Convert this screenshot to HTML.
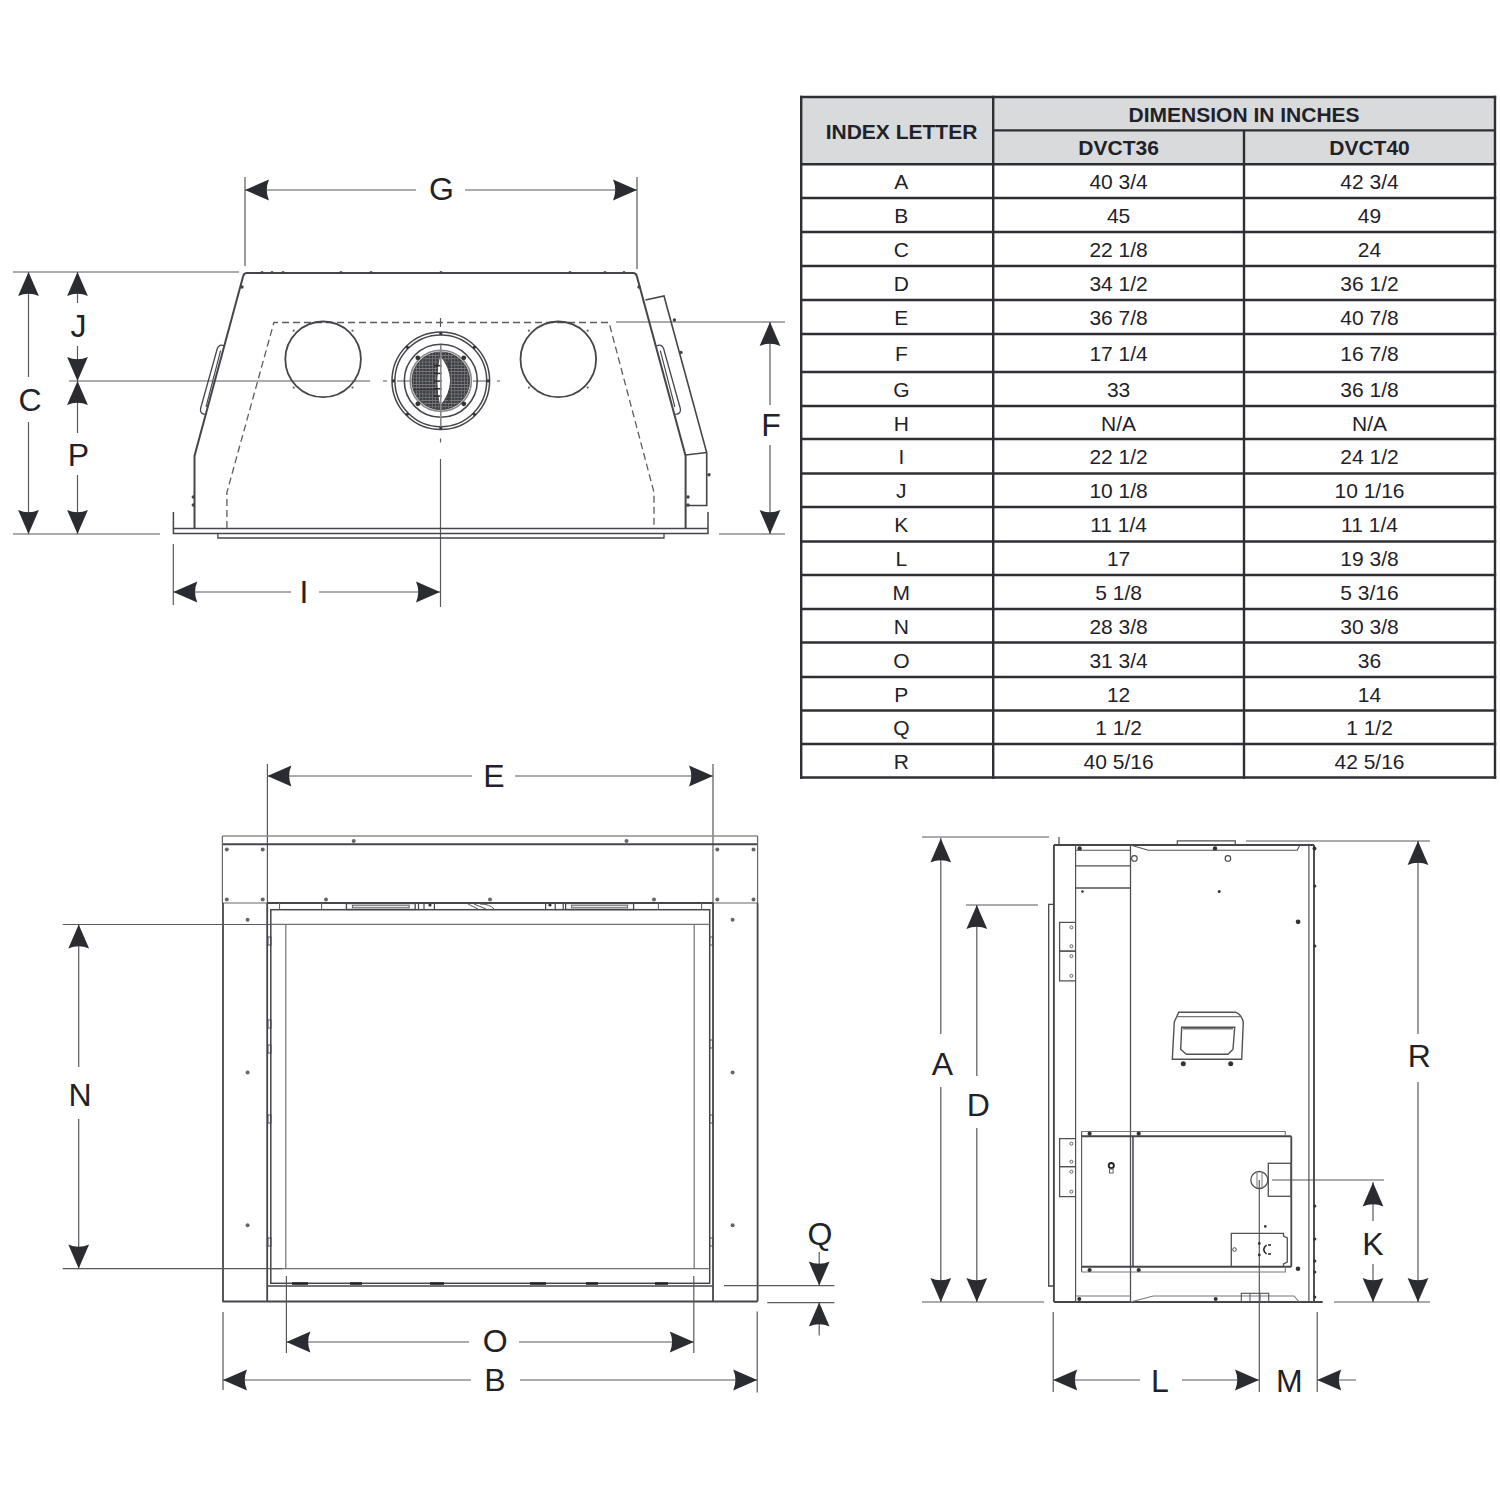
<!DOCTYPE html>
<html><head><meta charset="utf-8"><style>
html,body{margin:0;padding:0;background:#fff;}
svg{display:block;font-family:"Liberation Sans",sans-serif;}
</style></head><body>
<svg width="1500" height="1500" viewBox="0 0 1500 1500">
<rect width="1500" height="1500" fill="#fff"/>
<rect x="801.2" y="97" width="693.8" height="67.19999999999999" fill="#d9dadc"/>
<line x1="800.0" y1="97" x2="1496.2" y2="97" stroke="#2e2f34" stroke-width="2.4" />
<line x1="800.0" y1="164.2" x2="1496.2" y2="164.2" stroke="#2e2f34" stroke-width="2.4" />
<line x1="800.0" y1="198" x2="1496.2" y2="198" stroke="#2e2f34" stroke-width="2.4" />
<line x1="800.0" y1="232" x2="1496.2" y2="232" stroke="#2e2f34" stroke-width="2.4" />
<line x1="800.0" y1="266" x2="1496.2" y2="266" stroke="#2e2f34" stroke-width="2.4" />
<line x1="800.0" y1="300" x2="1496.2" y2="300" stroke="#2e2f34" stroke-width="2.4" />
<line x1="800.0" y1="334" x2="1496.2" y2="334" stroke="#2e2f34" stroke-width="2.4" />
<line x1="800.0" y1="372" x2="1496.2" y2="372" stroke="#2e2f34" stroke-width="2.4" />
<line x1="800.0" y1="406" x2="1496.2" y2="406" stroke="#2e2f34" stroke-width="2.4" />
<line x1="800.0" y1="439" x2="1496.2" y2="439" stroke="#2e2f34" stroke-width="2.4" />
<line x1="800.0" y1="473.5" x2="1496.2" y2="473.5" stroke="#2e2f34" stroke-width="2.4" />
<line x1="800.0" y1="507" x2="1496.2" y2="507" stroke="#2e2f34" stroke-width="2.4" />
<line x1="800.0" y1="541.5" x2="1496.2" y2="541.5" stroke="#2e2f34" stroke-width="2.4" />
<line x1="800.0" y1="575" x2="1496.2" y2="575" stroke="#2e2f34" stroke-width="2.4" />
<line x1="800.0" y1="609" x2="1496.2" y2="609" stroke="#2e2f34" stroke-width="2.4" />
<line x1="800.0" y1="642.5" x2="1496.2" y2="642.5" stroke="#2e2f34" stroke-width="2.4" />
<line x1="800.0" y1="677" x2="1496.2" y2="677" stroke="#2e2f34" stroke-width="2.4" />
<line x1="800.0" y1="710.5" x2="1496.2" y2="710.5" stroke="#2e2f34" stroke-width="2.4" />
<line x1="800.0" y1="744" x2="1496.2" y2="744" stroke="#2e2f34" stroke-width="2.4" />
<line x1="800.0" y1="777.5" x2="1496.2" y2="777.5" stroke="#2e2f34" stroke-width="2.4" />
<line x1="993.2" y1="130.4" x2="1495" y2="130.4" stroke="#2e2f34" stroke-width="2.4" />
<line x1="801.2" y1="95.8" x2="801.2" y2="778.7" stroke="#2e2f34" stroke-width="2.4" />
<line x1="1495" y1="95.8" x2="1495" y2="778.7" stroke="#2e2f34" stroke-width="2.4" />
<line x1="993.2" y1="95.8" x2="993.2" y2="778.7" stroke="#2e2f34" stroke-width="2.4" />
<line x1="1244" y1="130.4" x2="1244" y2="778.7" stroke="#2e2f34" stroke-width="2.4" />
<text x="901.5" y="138.72" font-size="21" font-weight="bold" text-anchor="middle" fill="#1f2228">INDEX LETTER</text>
<text x="1244.1" y="121.82" font-size="21" font-weight="bold" text-anchor="middle" fill="#1f2228">DIMENSION IN INCHES</text>
<text x="1118.6" y="155.42" font-size="21" font-weight="bold" text-anchor="middle" fill="#1f2228">DVCT36</text>
<text x="1369.5" y="155.42" font-size="21" font-weight="bold" text-anchor="middle" fill="#1f2228">DVCT40</text>
<text x="901.3" y="189.22" font-size="21" text-anchor="middle" fill="#1f2228">A</text>
<text x="1118.6" y="189.22" font-size="21" text-anchor="middle" fill="#1f2228">40 3/4</text>
<text x="1369.5" y="189.22" font-size="21" text-anchor="middle" fill="#1f2228">42 3/4</text>
<text x="901.3" y="223.12" font-size="21" text-anchor="middle" fill="#1f2228">B</text>
<text x="1118.6" y="223.12" font-size="21" text-anchor="middle" fill="#1f2228">45</text>
<text x="1369.5" y="223.12" font-size="21" text-anchor="middle" fill="#1f2228">49</text>
<text x="901.3" y="257.12" font-size="21" text-anchor="middle" fill="#1f2228">C</text>
<text x="1118.6" y="257.12" font-size="21" text-anchor="middle" fill="#1f2228">22 1/8</text>
<text x="1369.5" y="257.12" font-size="21" text-anchor="middle" fill="#1f2228">24</text>
<text x="901.3" y="291.12" font-size="21" text-anchor="middle" fill="#1f2228">D</text>
<text x="1118.6" y="291.12" font-size="21" text-anchor="middle" fill="#1f2228">34 1/2</text>
<text x="1369.5" y="291.12" font-size="21" text-anchor="middle" fill="#1f2228">36 1/2</text>
<text x="901.3" y="325.12" font-size="21" text-anchor="middle" fill="#1f2228">E</text>
<text x="1118.6" y="325.12" font-size="21" text-anchor="middle" fill="#1f2228">36 7/8</text>
<text x="1369.5" y="325.12" font-size="21" text-anchor="middle" fill="#1f2228">40 7/8</text>
<text x="901.3" y="361.12" font-size="21" text-anchor="middle" fill="#1f2228">F</text>
<text x="1118.6" y="361.12" font-size="21" text-anchor="middle" fill="#1f2228">17 1/4</text>
<text x="1369.5" y="361.12" font-size="21" text-anchor="middle" fill="#1f2228">16 7/8</text>
<text x="901.3" y="397.12" font-size="21" text-anchor="middle" fill="#1f2228">G</text>
<text x="1118.6" y="397.12" font-size="21" text-anchor="middle" fill="#1f2228">33</text>
<text x="1369.5" y="397.12" font-size="21" text-anchor="middle" fill="#1f2228">36 1/8</text>
<text x="901.3" y="430.62" font-size="21" text-anchor="middle" fill="#1f2228">H</text>
<text x="1118.6" y="430.62" font-size="21" text-anchor="middle" fill="#1f2228">N/A</text>
<text x="1369.5" y="430.62" font-size="21" text-anchor="middle" fill="#1f2228">N/A</text>
<text x="901.3" y="464.37" font-size="21" text-anchor="middle" fill="#1f2228">I</text>
<text x="1118.6" y="464.37" font-size="21" text-anchor="middle" fill="#1f2228">22 1/2</text>
<text x="1369.5" y="464.37" font-size="21" text-anchor="middle" fill="#1f2228">24 1/2</text>
<text x="901.3" y="498.37" font-size="21" text-anchor="middle" fill="#1f2228">J</text>
<text x="1118.6" y="498.37" font-size="21" text-anchor="middle" fill="#1f2228">10 1/8</text>
<text x="1369.5" y="498.37" font-size="21" text-anchor="middle" fill="#1f2228">10 1/16</text>
<text x="901.3" y="532.37" font-size="21" text-anchor="middle" fill="#1f2228">K</text>
<text x="1118.6" y="532.37" font-size="21" text-anchor="middle" fill="#1f2228">11 1/4</text>
<text x="1369.5" y="532.37" font-size="21" text-anchor="middle" fill="#1f2228">11 1/4</text>
<text x="901.3" y="566.37" font-size="21" text-anchor="middle" fill="#1f2228">L</text>
<text x="1118.6" y="566.37" font-size="21" text-anchor="middle" fill="#1f2228">17</text>
<text x="1369.5" y="566.37" font-size="21" text-anchor="middle" fill="#1f2228">19 3/8</text>
<text x="901.3" y="600.12" font-size="21" text-anchor="middle" fill="#1f2228">M</text>
<text x="1118.6" y="600.12" font-size="21" text-anchor="middle" fill="#1f2228">5 1/8</text>
<text x="1369.5" y="600.12" font-size="21" text-anchor="middle" fill="#1f2228">5 3/16</text>
<text x="901.3" y="633.87" font-size="21" text-anchor="middle" fill="#1f2228">N</text>
<text x="1118.6" y="633.87" font-size="21" text-anchor="middle" fill="#1f2228">28 3/8</text>
<text x="1369.5" y="633.87" font-size="21" text-anchor="middle" fill="#1f2228">30 3/8</text>
<text x="901.3" y="667.87" font-size="21" text-anchor="middle" fill="#1f2228">O</text>
<text x="1118.6" y="667.87" font-size="21" text-anchor="middle" fill="#1f2228">31 3/4</text>
<text x="1369.5" y="667.87" font-size="21" text-anchor="middle" fill="#1f2228">36</text>
<text x="901.3" y="701.87" font-size="21" text-anchor="middle" fill="#1f2228">P</text>
<text x="1118.6" y="701.87" font-size="21" text-anchor="middle" fill="#1f2228">12</text>
<text x="1369.5" y="701.87" font-size="21" text-anchor="middle" fill="#1f2228">14</text>
<text x="901.3" y="735.37" font-size="21" text-anchor="middle" fill="#1f2228">Q</text>
<text x="1118.6" y="735.37" font-size="21" text-anchor="middle" fill="#1f2228">1 1/2</text>
<text x="1369.5" y="735.37" font-size="21" text-anchor="middle" fill="#1f2228">1 1/2</text>
<text x="901.3" y="768.87" font-size="21" text-anchor="middle" fill="#1f2228">R</text>
<text x="1118.6" y="768.87" font-size="21" text-anchor="middle" fill="#1f2228">40 5/16</text>
<text x="1369.5" y="768.87" font-size="21" text-anchor="middle" fill="#1f2228">42 5/16</text>
<line x1="245" y1="177" x2="245" y2="266" stroke="#58595d" stroke-width="1.2" />
<line x1="637" y1="177" x2="637" y2="269" stroke="#58595d" stroke-width="1.2" />
<line x1="245" y1="190" x2="416" y2="190" stroke="#58595d" stroke-width="1.2" />
<line x1="465" y1="190" x2="637" y2="190" stroke="#58595d" stroke-width="1.2" />
<path d="M0,0 L24,-10.4 Q19.5,0 24,10.4 Z" fill="#2b2c31" transform="translate(245,190) rotate(0)"/>
<path d="M0,0 L24,-10.4 Q19.5,0 24,10.4 Z" fill="#2b2c31" transform="translate(637,190) rotate(180)"/>
<text x="441.5" y="200.01" font-size="32" text-anchor="middle" fill="#1f2228">G</text>
<line x1="13" y1="272" x2="239" y2="272" stroke="#58595d" stroke-width="1.2" />
<line x1="13" y1="534" x2="160" y2="534" stroke="#58595d" stroke-width="1.2" />
<line x1="28.5" y1="272" x2="28.5" y2="377" stroke="#58595d" stroke-width="1.2" />
<line x1="28.5" y1="422" x2="28.5" y2="534" stroke="#58595d" stroke-width="1.2" />
<path d="M0,0 L24,-10.4 Q19.5,0 24,10.4 Z" fill="#2b2c31" transform="translate(28.5,272) rotate(90)"/>
<path d="M0,0 L24,-10.4 Q19.5,0 24,10.4 Z" fill="#2b2c31" transform="translate(28.5,534) rotate(270)"/>
<text x="30" y="411.01" font-size="32" text-anchor="middle" fill="#1f2228">C</text>
<line x1="77.5" y1="272" x2="77.5" y2="303" stroke="#58595d" stroke-width="1.2" />
<line x1="77.5" y1="346" x2="77.5" y2="381" stroke="#58595d" stroke-width="1.2" />
<path d="M0,0 L24,-10.4 Q19.5,0 24,10.4 Z" fill="#2b2c31" transform="translate(77.5,272) rotate(90)"/>
<path d="M0,0 L24,-10.4 Q19.5,0 24,10.4 Z" fill="#2b2c31" transform="translate(77.5,381) rotate(270)"/>
<text x="78.5" y="337.01" font-size="32" text-anchor="middle" fill="#1f2228">J</text>
<line x1="77.5" y1="381" x2="77.5" y2="433" stroke="#58595d" stroke-width="1.2" />
<line x1="77.5" y1="475" x2="77.5" y2="534" stroke="#58595d" stroke-width="1.2" />
<path d="M0,0 L24,-10.4 Q19.5,0 24,10.4 Z" fill="#2b2c31" transform="translate(77.5,381) rotate(90)"/>
<path d="M0,0 L24,-10.4 Q19.5,0 24,10.4 Z" fill="#2b2c31" transform="translate(77.5,534) rotate(270)"/>
<text x="78.5" y="466.01" font-size="32" text-anchor="middle" fill="#1f2228">P</text>
<line x1="69" y1="381" x2="370" y2="381" stroke="#58595d" stroke-width="1.2" />
<line x1="383" y1="381" x2="500" y2="381" stroke="#58595d" stroke-width="1.1" stroke-dasharray="4 10 14 10"/>
<line x1="173.3" y1="544" x2="173.3" y2="605" stroke="#58595d" stroke-width="1.2" />
<line x1="173.3" y1="592" x2="291" y2="592" stroke="#58595d" stroke-width="1.2" />
<line x1="319" y1="592" x2="440" y2="592" stroke="#58595d" stroke-width="1.2" />
<path d="M0,0 L24,-10.4 Q19.5,0 24,10.4 Z" fill="#2b2c31" transform="translate(173.3,592) rotate(0)"/>
<path d="M0,0 L24,-10.4 Q19.5,0 24,10.4 Z" fill="#2b2c31" transform="translate(440,592) rotate(180)"/>
<text x="304" y="603.01" font-size="32" text-anchor="middle" fill="#1f2228">I</text>
<line x1="440.5" y1="459" x2="440.5" y2="607" stroke="#58595d" stroke-width="1.2" />
<line x1="440.5" y1="438.5" x2="440.5" y2="442.5" stroke="#58595d" stroke-width="1.2" />
<line x1="440.5" y1="318" x2="440.5" y2="327" stroke="#58595d" stroke-width="1.2" />
<line x1="616" y1="322" x2="785" y2="322" stroke="#58595d" stroke-width="1.2" />
<line x1="719" y1="534" x2="785" y2="534" stroke="#58595d" stroke-width="1.2" />
<line x1="770" y1="322" x2="770" y2="405" stroke="#58595d" stroke-width="1.2" />
<line x1="770" y1="445" x2="770" y2="534" stroke="#58595d" stroke-width="1.2" />
<path d="M0,0 L24,-10.4 Q19.5,0 24,10.4 Z" fill="#2b2c31" transform="translate(770,322) rotate(90)"/>
<path d="M0,0 L24,-10.4 Q19.5,0 24,10.4 Z" fill="#2b2c31" transform="translate(770,534) rotate(270)"/>
<text x="771" y="436.01" font-size="32" text-anchor="middle" fill="#1f2228">F</text>
<path d="M194.5,528 L194.5,456 L243.2,276 Q244,273 247,273 L633,273 Q636,273 636.8,276 L685.6,456 L685.6,528" stroke="#45464b" stroke-width="2" fill="none" />
<circle cx="193.3" cy="497" r="1.7" fill="#444"/>
<circle cx="193.3" cy="505" r="1.7" fill="#444"/>
<circle cx="242" cy="287" r="1.7" fill="#444"/>
<circle cx="639" cy="287" r="1.7" fill="#444"/>
<circle cx="688" cy="497" r="1.7" fill="#444"/>
<circle cx="688" cy="505" r="1.7" fill="#444"/>
<circle cx="674.4" cy="320" r="1.7" fill="#444"/>
<circle cx="681" cy="352.4" r="1.7" fill="#444"/>
<circle cx="709" cy="474.7" r="1.7" fill="#444"/>
<path d="M645.5,300 L664,296 L706.7,452.5 L706.7,505.5 L685.6,505.5" stroke="#45464b" stroke-width="1.6" fill="none" />
<line x1="685.6" y1="455" x2="706.7" y2="452.5" stroke="#45464b" stroke-width="1.3" />
<path d="M224.3,346 Q219.5,343.5 217.3,348.5 L200.6,408.5 Q199.5,414 205.7,414.3" stroke="#45464b" stroke-width="1.3" fill="none" />
<path d="M220.6,350.5 L206,407" stroke="#45464b" stroke-width="1.1" fill="none" />
<path d="M656.6,346 Q661.4,343.5 663.6,348.5 L680.3,408.5 Q681.4,414 675.2,414.3" stroke="#45464b" stroke-width="1.3" fill="none" />
<path d="M660.3,350.5 L674.9,407" stroke="#45464b" stroke-width="1.1" fill="none" />
<path d="M173.4,512 L173.4,533.5 L708,533.5 L708,512" stroke="#45464b" stroke-width="1.5" fill="none" />
<line x1="173.4" y1="528.5" x2="708" y2="528.5" stroke="#45464b" stroke-width="1.6" />
<path d="M217.9,533.5 L217.9,538 L664,538 L664,533.5" stroke="#45464b" stroke-width="1.3" fill="none" />
<path d="M226.9,528 L226.9,492.4 L273.9,322.5 L609,322.5 L654,492.4 L654,528" stroke="#5c5d61" stroke-width="1.3" fill="none" stroke-dasharray="7 4"/>
<circle cx="323.1" cy="359.3" r="37.8" stroke="#45464b" stroke-width="1.8" fill="none" />
<circle cx="558.3" cy="359.3" r="37.8" stroke="#45464b" stroke-width="1.8" fill="none" />
<circle cx="293.70000000000005" cy="330.7" r="1.1" fill="#666"/>
<circle cx="293.70000000000005" cy="387.6" r="1.1" fill="#666"/>
<circle cx="352.5" cy="330.7" r="1.1" fill="#666"/>
<circle cx="352.5" cy="387.6" r="1.1" fill="#666"/>
<circle cx="528.9" cy="330.7" r="1.1" fill="#666"/>
<circle cx="528.9" cy="387.6" r="1.1" fill="#666"/>
<circle cx="587.6999999999999" cy="330.7" r="1.1" fill="#666"/>
<circle cx="587.6999999999999" cy="387.6" r="1.1" fill="#666"/>
<defs><pattern id="grill" width="3.2" height="3.2" patternUnits="userSpaceOnUse"><rect width="3.2" height="3.2" fill="#3c3d42"/><rect x="0" y="0" width="3.2" height="0.7" fill="#8a8a8e"/><rect x="0" y="0" width="0.7" height="3.2" fill="#7a7a7e"/></pattern></defs>
<circle cx="440.8" cy="380.8" r="48.8" stroke="#45464b" stroke-width="1.5" fill="none" />
<circle cx="440.8" cy="380.8" r="45.9" stroke="#45464b" stroke-width="1.5" fill="none" />
<circle cx="440.8" cy="380.8" r="36.5" stroke="#45464b" stroke-width="1.6" fill="none" />
<circle cx="440.8" cy="380.8" r="30.6" stroke="#8a8a8e" stroke-width="1.6" fill="none" />
<circle cx="440.8" cy="380.8" r="28.9" stroke="#333" stroke-width="0.8" fill="url(#grill)" />
<line x1="412.8" y1="389.8" x2="435.8" y2="389.8" stroke="#333" stroke-width="1"/>
<line x1="448.8" y1="360.8" x2="448.8" y2="402.8" stroke="#333" stroke-width="1"/>
<path d="M439.8,354.8 Q433.8,380.8 439.8,406.8 Q461.3,380.8 439.8,354.8 Z" fill="#fff" stroke="#444" stroke-width="1"/>
<line x1="433.8" y1="365.7" x2="441.8" y2="365.7" stroke="#2a2a2a" stroke-width="1.5"/>
<line x1="433.8" y1="373.40000000000003" x2="441.8" y2="373.40000000000003" stroke="#2a2a2a" stroke-width="1.5"/>
<line x1="433.8" y1="381.1" x2="441.8" y2="381.1" stroke="#2a2a2a" stroke-width="1.5"/>
<line x1="433.8" y1="388.8" x2="441.8" y2="388.8" stroke="#2a2a2a" stroke-width="1.5"/>
<line x1="433.8" y1="396.1" x2="441.8" y2="396.1" stroke="#2a2a2a" stroke-width="1.5"/>
<line x1="440.8" y1="344.8" x2="440.8" y2="428.8" stroke="#888" stroke-width="1.6" />
<circle cx="463.7809703885628" cy="403.7809703885628" r="2.4" fill="#333"/>
<circle cx="417.8190296114372" cy="403.7809703885628" r="2.4" fill="#333"/>
<circle cx="417.8190296114372" cy="357.8190296114372" r="2.4" fill="#333"/>
<circle cx="463.7809703885628" cy="357.8190296114372" r="2.4" fill="#333"/>
<circle cx="488.1" cy="380.8" r="1.6" fill="#333"/>
<circle cx="474.2461507501237" cy="414.2461507501237" r="1.6" fill="#333"/>
<circle cx="440.8" cy="428.1" r="1.6" fill="#333"/>
<circle cx="407.3538492498763" cy="414.2461507501237" r="1.6" fill="#333"/>
<circle cx="393.5" cy="380.8" r="1.6" fill="#333"/>
<circle cx="407.3538492498763" cy="347.3538492498763" r="1.6" fill="#333"/>
<circle cx="440.8" cy="333.5" r="1.6" fill="#333"/>
<circle cx="474.2461507501237" cy="347.3538492498763" r="1.6" fill="#333"/>
<circle cx="262" cy="272.5" r="1.6" fill="#444"/>
<circle cx="272" cy="272.5" r="1.6" fill="#444"/>
<circle cx="283" cy="272.5" r="1.6" fill="#444"/>
<circle cx="341" cy="272.5" r="1.6" fill="#444"/>
<circle cx="371" cy="272.5" r="1.6" fill="#444"/>
<circle cx="441" cy="272.5" r="1.6" fill="#444"/>
<circle cx="570" cy="272.5" r="1.6" fill="#444"/>
<circle cx="605" cy="272.5" r="1.6" fill="#444"/>
<circle cx="624" cy="272.5" r="1.6" fill="#444"/>
<line x1="267.4" y1="764" x2="267.4" y2="903" stroke="#58595d" stroke-width="1.2" />
<line x1="713" y1="764" x2="713" y2="903" stroke="#58595d" stroke-width="1.2" />
<line x1="267.4" y1="776" x2="472" y2="776" stroke="#58595d" stroke-width="1.2" />
<line x1="515" y1="776" x2="713" y2="776" stroke="#58595d" stroke-width="1.2" />
<path d="M0,0 L24,-10.4 Q19.5,0 24,10.4 Z" fill="#2b2c31" transform="translate(267.4,776) rotate(0)"/>
<path d="M0,0 L24,-10.4 Q19.5,0 24,10.4 Z" fill="#2b2c31" transform="translate(713,776) rotate(180)"/>
<text x="494" y="787.01" font-size="32" text-anchor="middle" fill="#1f2228">E</text>
<line x1="222.4" y1="836" x2="757.6" y2="836" stroke="#8c8c8e" stroke-width="1.3" />
<line x1="222.4" y1="844.3" x2="757.6" y2="844.3" stroke="#45464b" stroke-width="2" />
<line x1="222.4" y1="836" x2="222.4" y2="903" stroke="#666" stroke-width="1.2" />
<line x1="757.6" y1="836" x2="757.6" y2="903" stroke="#666" stroke-width="1.2" />
<line x1="222.4" y1="903" x2="757.6" y2="903" stroke="#666" stroke-width="1.2" />
<line x1="267" y1="903" x2="713" y2="903" stroke="#45464b" stroke-width="1.8" />
<line x1="223" y1="903" x2="223" y2="1301.5" stroke="#45464b" stroke-width="1.8" />
<line x1="757.6" y1="903" x2="757.6" y2="1301.5" stroke="#45464b" stroke-width="1.8" />
<line x1="267.2" y1="903" x2="267.2" y2="1301.5" stroke="#45464b" stroke-width="1.8" />
<line x1="713" y1="903" x2="713" y2="1301.5" stroke="#45464b" stroke-width="1.8" />
<line x1="222.4" y1="1301.5" x2="757.6" y2="1301.5" stroke="#45464b" stroke-width="1.9" />
<line x1="267" y1="1286" x2="713" y2="1286" stroke="#45464b" stroke-width="1.6" />
<rect x="270.8" y="909.7" width="438.9" height="373.6" stroke="#45464b" stroke-width="1.5" fill="none" />
<line x1="271" y1="924.4" x2="709.7" y2="924.4" stroke="#6f7074" stroke-width="1.2" />
<line x1="271" y1="1268.6" x2="709.7" y2="1268.6" stroke="#6f7074" stroke-width="1.2" />
<line x1="285.8" y1="924.4" x2="285.8" y2="1268.6" stroke="#6f7074" stroke-width="1.2" />
<line x1="694.2" y1="924.4" x2="694.2" y2="1268.6" stroke="#6f7074" stroke-width="1.2" />
<line x1="279.5" y1="903" x2="279.5" y2="909.5" stroke="#66676b" stroke-width="1.1" />
<line x1="321.6" y1="903" x2="321.6" y2="909.5" stroke="#66676b" stroke-width="1.1" />
<line x1="658.4" y1="903" x2="658.4" y2="909.5" stroke="#66676b" stroke-width="1.1" />
<line x1="701.6" y1="903" x2="701.6" y2="909.5" stroke="#66676b" stroke-width="1.1" />
<rect x="346.4" y="903.5" width="68.80000000000001" height="6" stroke="#45464b" stroke-width="1.3" fill="none" />
<rect x="352.4" y="905.2" width="56.80000000000001" height="2.6" stroke="#666" stroke-width="1" fill="#e2e2e2" />
<rect x="565.6" y="903.5" width="68.0" height="6" stroke="#45464b" stroke-width="1.3" fill="none" />
<rect x="571.6" y="905.2" width="56.0" height="2.6" stroke="#666" stroke-width="1" fill="#e2e2e2" />
<line x1="418.5" y1="903" x2="418.5" y2="909.5" stroke="#45464b" stroke-width="1.2" />
<line x1="424" y1="903" x2="424" y2="909.5" stroke="#45464b" stroke-width="1.2" />
<line x1="434.4" y1="903" x2="434.4" y2="909.5" stroke="#45464b" stroke-width="1.2" />
<line x1="545.6" y1="903" x2="545.6" y2="909.5" stroke="#45464b" stroke-width="1.2" />
<line x1="555.2" y1="903" x2="555.2" y2="909.5" stroke="#45464b" stroke-width="1.2" />
<line x1="563.2" y1="903" x2="563.2" y2="909.5" stroke="#45464b" stroke-width="1.2" />
<path d="M468,904 L478,909 M474,904 L486,909 M480,904 Q490,904 494,909" stroke="#555" stroke-width="1" fill="none" />
<circle cx="430" cy="905" r="1.6" fill="#333"/>
<circle cx="550" cy="905" r="1.6" fill="#333"/>
<line x1="292" y1="1283.5" x2="308" y2="1283.5" stroke="#222" stroke-width="2.6" />
<line x1="350" y1="1283.5" x2="362" y2="1283.5" stroke="#222" stroke-width="2.6" />
<line x1="430" y1="1283.5" x2="444" y2="1283.5" stroke="#222" stroke-width="2.6" />
<line x1="530" y1="1283.5" x2="546" y2="1283.5" stroke="#222" stroke-width="2.6" />
<line x1="586" y1="1283.5" x2="598" y2="1283.5" stroke="#222" stroke-width="2.6" />
<line x1="655" y1="1283.5" x2="668" y2="1283.5" stroke="#222" stroke-width="2.6" />
<rect x="268" y="937" width="3" height="8" stroke="#45464b" stroke-width="0.9" fill="none" />
<rect x="268" y="1020" width="3" height="8" stroke="#45464b" stroke-width="0.9" fill="none" />
<rect x="268" y="1045" width="3" height="8" stroke="#45464b" stroke-width="0.9" fill="none" />
<rect x="268" y="1115" width="3" height="8" stroke="#45464b" stroke-width="0.9" fill="none" />
<rect x="268" y="1238" width="3" height="8" stroke="#45464b" stroke-width="0.9" fill="none" />
<rect x="709.7" y="937" width="3" height="8" stroke="#45464b" stroke-width="0.9" fill="none" />
<rect x="709.7" y="1040" width="3" height="8" stroke="#45464b" stroke-width="0.9" fill="none" />
<rect x="709.7" y="1115" width="3" height="8" stroke="#45464b" stroke-width="0.9" fill="none" />
<rect x="709.7" y="1238" width="3" height="8" stroke="#45464b" stroke-width="0.9" fill="none" />
<circle cx="226.8" cy="849.5" r="2" fill="#666"/>
<circle cx="262.7" cy="849.5" r="2" fill="#666"/>
<circle cx="226.8" cy="899.5" r="2" fill="#666"/>
<circle cx="262.7" cy="899.5" r="2" fill="#666"/>
<circle cx="717.3" cy="849.5" r="2" fill="#666"/>
<circle cx="753.5" cy="849.5" r="2" fill="#666"/>
<circle cx="717.3" cy="899.5" r="2" fill="#666"/>
<circle cx="753.5" cy="899.5" r="2" fill="#666"/>
<circle cx="353.7" cy="841" r="2" fill="#666"/>
<circle cx="626.5" cy="841" r="2" fill="#666"/>
<circle cx="326" cy="899.6" r="2" fill="#666"/>
<circle cx="490" cy="899.6" r="2" fill="#666"/>
<circle cx="654" cy="899.6" r="2" fill="#666"/>
<circle cx="247.6" cy="919.8" r="2" fill="#666"/>
<circle cx="247.6" cy="1072.5" r="2" fill="#666"/>
<circle cx="247.6" cy="1225.3" r="2" fill="#666"/>
<circle cx="732.6" cy="919.8" r="2" fill="#666"/>
<circle cx="732.6" cy="1072.5" r="2" fill="#666"/>
<circle cx="732.6" cy="1225.3" r="2" fill="#666"/>
<line x1="62.7" y1="924.5" x2="272" y2="924.5" stroke="#58595d" stroke-width="1.2" />
<line x1="62.7" y1="1268.6" x2="282" y2="1268.6" stroke="#58595d" stroke-width="1.2" />
<line x1="78.7" y1="924.5" x2="78.7" y2="1067" stroke="#58595d" stroke-width="1.2" />
<line x1="78.7" y1="1119" x2="78.7" y2="1268.6" stroke="#58595d" stroke-width="1.2" />
<path d="M0,0 L24,-10.4 Q19.5,0 24,10.4 Z" fill="#2b2c31" transform="translate(78.7,924.5) rotate(90)"/>
<path d="M0,0 L24,-10.4 Q19.5,0 24,10.4 Z" fill="#2b2c31" transform="translate(78.7,1268.6) rotate(270)"/>
<text x="80" y="1105.51" font-size="32" text-anchor="middle" fill="#1f2228">N</text>
<line x1="286.4" y1="1276" x2="286.4" y2="1353" stroke="#58595d" stroke-width="1.2" />
<line x1="693.8" y1="1276" x2="693.8" y2="1353" stroke="#58595d" stroke-width="1.2" />
<line x1="286.4" y1="1342" x2="469" y2="1342" stroke="#58595d" stroke-width="1.2" />
<line x1="519" y1="1342" x2="693.8" y2="1342" stroke="#58595d" stroke-width="1.2" />
<path d="M0,0 L24,-10.4 Q19.5,0 24,10.4 Z" fill="#2b2c31" transform="translate(286.4,1342) rotate(0)"/>
<path d="M0,0 L24,-10.4 Q19.5,0 24,10.4 Z" fill="#2b2c31" transform="translate(693.8,1342) rotate(180)"/>
<text x="495.3" y="1352.01" font-size="32" text-anchor="middle" fill="#1f2228">O</text>
<line x1="223" y1="1312" x2="223" y2="1390" stroke="#58595d" stroke-width="1.2" />
<line x1="757.2" y1="1311.5" x2="757.2" y2="1392.5" stroke="#58595d" stroke-width="1.2" />
<line x1="223" y1="1380" x2="471" y2="1380" stroke="#58595d" stroke-width="1.2" />
<line x1="520" y1="1380" x2="757.2" y2="1380" stroke="#58595d" stroke-width="1.2" />
<path d="M0,0 L24,-10.4 Q19.5,0 24,10.4 Z" fill="#2b2c31" transform="translate(223,1380) rotate(0)"/>
<path d="M0,0 L24,-10.4 Q19.5,0 24,10.4 Z" fill="#2b2c31" transform="translate(757.2,1380) rotate(180)"/>
<text x="495" y="1391.01" font-size="32" text-anchor="middle" fill="#1f2228">B</text>
<line x1="724" y1="1285.6" x2="834.4" y2="1285.6" stroke="#58595d" stroke-width="1.2" />
<line x1="767.3" y1="1302.6" x2="834.4" y2="1302.6" stroke="#58595d" stroke-width="1.2" />
<line x1="819.2" y1="1252" x2="819.2" y2="1285.6" stroke="#58595d" stroke-width="1.2" />
<line x1="819.2" y1="1302.6" x2="819.2" y2="1335.5" stroke="#58595d" stroke-width="1.2" />
<path d="M0,0 L24,-10.4 Q19.5,0 24,10.4 Z" fill="#2b2c31" transform="translate(819.2,1285.6) rotate(270)"/>
<path d="M0,0 L24,-10.4 Q19.5,0 24,10.4 Z" fill="#2b2c31" transform="translate(819.2,1302.6) rotate(90)"/>
<text x="820" y="1244.51" font-size="32" text-anchor="middle" fill="#1f2228">Q</text>
<line x1="922" y1="837" x2="1049" y2="837" stroke="#58595d" stroke-width="1.2" />
<line x1="922" y1="1302" x2="1044" y2="1302" stroke="#58595d" stroke-width="1.2" />
<line x1="940.8" y1="838" x2="940.8" y2="1034" stroke="#58595d" stroke-width="1.2" />
<line x1="940.8" y1="1087" x2="940.8" y2="1302" stroke="#58595d" stroke-width="1.2" />
<path d="M0,0 L24,-10.4 Q19.5,0 24,10.4 Z" fill="#2b2c31" transform="translate(940.8,838.5) rotate(90)"/>
<path d="M0,0 L24,-10.4 Q19.5,0 24,10.4 Z" fill="#2b2c31" transform="translate(940.8,1302) rotate(270)"/>
<text x="942.3" y="1074.51" font-size="32" text-anchor="middle" fill="#1f2228">A</text>
<line x1="966" y1="905" x2="1038" y2="905" stroke="#58595d" stroke-width="1.2" />
<line x1="976.8" y1="905" x2="976.8" y2="1076" stroke="#58595d" stroke-width="1.2" />
<line x1="976.8" y1="1128" x2="976.8" y2="1302" stroke="#58595d" stroke-width="1.2" />
<path d="M0,0 L24,-10.4 Q19.5,0 24,10.4 Z" fill="#2b2c31" transform="translate(976.8,905) rotate(90)"/>
<path d="M0,0 L24,-10.4 Q19.5,0 24,10.4 Z" fill="#2b2c31" transform="translate(976.8,1302) rotate(270)"/>
<text x="978.2" y="1115.51" font-size="32" text-anchor="middle" fill="#1f2228">D</text>
<line x1="1246" y1="841" x2="1430" y2="841" stroke="#58595d" stroke-width="1.2" />
<line x1="1334" y1="1302" x2="1430" y2="1302" stroke="#58595d" stroke-width="1.2" />
<line x1="1418" y1="841" x2="1418" y2="1034" stroke="#58595d" stroke-width="1.2" />
<line x1="1418" y1="1082" x2="1418" y2="1302" stroke="#58595d" stroke-width="1.2" />
<path d="M0,0 L24,-10.4 Q19.5,0 24,10.4 Z" fill="#2b2c31" transform="translate(1418,841) rotate(90)"/>
<path d="M0,0 L24,-10.4 Q19.5,0 24,10.4 Z" fill="#2b2c31" transform="translate(1418,1302) rotate(270)"/>
<text x="1419.2" y="1066.51" font-size="32" text-anchor="middle" fill="#1f2228">R</text>
<line x1="1272" y1="1180" x2="1384" y2="1180" stroke="#58595d" stroke-width="1.2" />
<line x1="1373" y1="1182" x2="1373" y2="1221" stroke="#58595d" stroke-width="1.2" />
<line x1="1373" y1="1264" x2="1373" y2="1302" stroke="#58595d" stroke-width="1.2" />
<path d="M0,0 L24,-10.4 Q19.5,0 24,10.4 Z" fill="#2b2c31" transform="translate(1373,1182.5) rotate(90)"/>
<path d="M0,0 L24,-10.4 Q19.5,0 24,10.4 Z" fill="#2b2c31" transform="translate(1373,1302) rotate(270)"/>
<text x="1373" y="1254.51" font-size="32" text-anchor="middle" fill="#1f2228">K</text>
<line x1="1053.2" y1="1312" x2="1053.2" y2="1392" stroke="#58595d" stroke-width="1.2" />
<line x1="1317.2" y1="1312" x2="1317.2" y2="1392" stroke="#58595d" stroke-width="1.2" />
<line x1="1053.2" y1="1380" x2="1140" y2="1380" stroke="#58595d" stroke-width="1.2" />
<line x1="1182" y1="1380" x2="1259" y2="1380" stroke="#58595d" stroke-width="1.2" />
<path d="M0,0 L24,-10.4 Q19.5,0 24,10.4 Z" fill="#2b2c31" transform="translate(1053.2,1380) rotate(0)"/>
<path d="M0,0 L24,-10.4 Q19.5,0 24,10.4 Z" fill="#2b2c31" transform="translate(1259,1380) rotate(180)"/>
<text x="1160" y="1391.81" font-size="32" text-anchor="middle" fill="#1f2228">L</text>
<line x1="1259.3" y1="1180" x2="1259.3" y2="1392" stroke="#58595d" stroke-width="1.2" />
<line x1="1317.2" y1="1380" x2="1356" y2="1380" stroke="#58595d" stroke-width="1.2" />
<path d="M0,0 L24,-10.4 Q19.5,0 24,10.4 Z" fill="#2b2c31" transform="translate(1317.2,1380) rotate(0)"/>
<text x="1289.3" y="1391.81" font-size="32" text-anchor="middle" fill="#1f2228">M</text>
<line x1="1053.9" y1="845" x2="1314" y2="845" stroke="#45464b" stroke-width="1.9" />
<line x1="1053.9" y1="845" x2="1053.9" y2="1302" stroke="#45464b" stroke-width="1.9" />
<line x1="1314" y1="845" x2="1314" y2="1302" stroke="#45464b" stroke-width="1.9" />
<line x1="1053.9" y1="1302" x2="1322.7" y2="1302" stroke="#45464b" stroke-width="1.9" />
<line x1="1075.6" y1="845" x2="1075.6" y2="1302" stroke="#505156" stroke-width="1.2" />
<line x1="1130.5" y1="845" x2="1130.5" y2="1302" stroke="#505156" stroke-width="1.3" />
<line x1="1308.9" y1="845" x2="1308.9" y2="1302" stroke="#505156" stroke-width="1.2" />
<path d="M1053.5,904.4 L1048.7,904.4 L1048.7,1286 L1053.5,1286" stroke="#45464b" stroke-width="1.3" fill="none" />
<line x1="1059" y1="837" x2="1059" y2="845" stroke="#45464b" stroke-width="1.2" />
<line x1="1075.6" y1="850.3" x2="1130.5" y2="850.3" stroke="#505156" stroke-width="1.1" />
<line x1="1075.6" y1="865.8" x2="1130.5" y2="865.8" stroke="#505156" stroke-width="1.3" />
<line x1="1075.6" y1="888" x2="1130.5" y2="888" stroke="#505156" stroke-width="1.3" />
<path d="M1130.5,845 L1148.3,850.3 L1297.2,850.3 L1300,845" stroke="#505156" stroke-width="1.1" fill="none" />
<path d="M1177.3,845 L1177.3,840.8 L1235.3,840.8 L1235.3,845" stroke="#505156" stroke-width="1.2" fill="none" />
<circle cx="1134.4" cy="858.4" r="2.8" stroke="#45464b" stroke-width="1.1" fill="none" />
<circle cx="1227.9" cy="858.4" r="2.8" stroke="#45464b" stroke-width="1.1" fill="none" />
<circle cx="1079.6" cy="848.4" r="2.2" fill="#333"/>
<circle cx="1215" cy="848.4" r="2.2" fill="#333"/>
<circle cx="1082.5" cy="891.5" r="1.3" fill="#333"/>
<circle cx="1219.2" cy="891.5" r="1.5" fill="#333"/>
<circle cx="1298.1" cy="921.8" r="2.4" fill="#333"/>
<circle cx="1298" cy="1268.7" r="2.3" fill="#333"/>
<circle cx="1265.3" cy="1226.4" r="1.3" fill="#333"/>
<circle cx="1079.3" cy="1299" r="2" fill="#333"/>
<circle cx="1215.7" cy="1299" r="2" fill="#333"/>
<circle cx="1314.5" cy="848.4" r="2" fill="#333"/>
<circle cx="1314.8" cy="1206" r="1.6" fill="#333"/>
<circle cx="1314.8" cy="1239" r="1.6" fill="#333"/>
<circle cx="1314.8" cy="1261" r="1.6" fill="#333"/>
<circle cx="1314.8" cy="1272" r="1.6" fill="#333"/>
<circle cx="1314.8" cy="1297" r="1.6" fill="#333"/>
<circle cx="1314.8" cy="886" r="1.6" fill="#333"/>
<circle cx="1314.8" cy="946" r="1.6" fill="#333"/>
<path d="M1075.6,922.4 L1059.6,922.4 L1059.6,951.2 L1075.6,951.2" stroke="#505156" stroke-width="1.3" fill="none" />
<circle cx="1071.4" cy="927.4" r="1.5" stroke="#555" stroke-width="0.9" fill="none" />
<circle cx="1071.4" cy="946.2" r="1.5" stroke="#555" stroke-width="0.9" fill="none" />
<path d="M1075.6,951.2 L1059.6,951.2 L1059.6,980.8 L1075.6,980.8" stroke="#505156" stroke-width="1.3" fill="none" />
<circle cx="1071.4" cy="956.2" r="1.5" stroke="#555" stroke-width="0.9" fill="none" />
<circle cx="1071.4" cy="975.8" r="1.5" stroke="#555" stroke-width="0.9" fill="none" />
<path d="M1075.6,1138.7 L1059.6,1138.7 L1059.6,1166.7 L1075.6,1166.7" stroke="#505156" stroke-width="1.3" fill="none" />
<circle cx="1071.4" cy="1143.7" r="1.5" stroke="#555" stroke-width="0.9" fill="none" />
<circle cx="1071.4" cy="1161.7" r="1.5" stroke="#555" stroke-width="0.9" fill="none" />
<path d="M1075.6,1166.7 L1059.6,1166.7 L1059.6,1196.7 L1075.6,1196.7" stroke="#505156" stroke-width="1.3" fill="none" />
<circle cx="1071.4" cy="1171.7" r="1.5" stroke="#555" stroke-width="0.9" fill="none" />
<circle cx="1071.4" cy="1191.7" r="1.5" stroke="#555" stroke-width="0.9" fill="none" />
<path d="M1172.3,1059.3 L1174.3,1022 L1178.7,1012.3 L1236,1012.3 Q1241,1014 1243.3,1022 L1241.7,1059.3 Z" stroke="#505156" stroke-width="1.4" fill="none" />
<line x1="1177" y1="1016.7" x2="1240" y2="1016.7" stroke="#777" stroke-width="1.3" />
<path d="M1181.7,1027.3 L1234.7,1027.3 L1233,1049.3 L1228,1054.3 L1186.3,1054.3 L1180.7,1049.3 Z" stroke="#505156" stroke-width="1.4" fill="none" />
<line x1="1183" y1="1028.7" x2="1233" y2="1028.7" stroke="#777" stroke-width="1.4" />
<circle cx="1183.3" cy="1063.7" r="2.5" fill="#333"/>
<circle cx="1230.7" cy="1063.7" r="2.5" fill="#333"/>
<line x1="1081.6" y1="1136.3" x2="1291.3" y2="1136.3" stroke="#45464b" stroke-width="1.9" />
<line x1="1081.6" y1="1266.7" x2="1291.3" y2="1266.7" stroke="#45464b" stroke-width="1.9" />
<line x1="1291.3" y1="1136.3" x2="1291.3" y2="1266.7" stroke="#45464b" stroke-width="1.8" />
<line x1="1081.6" y1="1131.5" x2="1081.6" y2="1272" stroke="#505156" stroke-width="1.1" />
<line x1="1133" y1="1136.3" x2="1133" y2="1266.7" stroke="#45464b" stroke-width="1.5" />
<path d="M1081.6,1131.5 L1285.3,1131.5 L1285.3,1136.3" stroke="#777" stroke-width="1.1" fill="none" />
<path d="M1081.6,1272 L1285.3,1272 L1285.3,1266.7" stroke="#777" stroke-width="1.1" fill="none" />
<circle cx="1089.6" cy="1133.7" r="2.1" fill="#333"/>
<circle cx="1138.7" cy="1133.7" r="2.1" fill="#333"/>
<circle cx="1089.6" cy="1270" r="2.1" fill="#333"/>
<circle cx="1138.7" cy="1270" r="2.1" fill="#333"/>
<circle cx="1111.3" cy="1165.6" r="2.6" stroke="#222" stroke-width="1.8" fill="none" />
<rect x="1109.5" y="1169" width="3.6" height="4" stroke="#555" stroke-width="0.9" fill="none" />
<circle cx="1259.3" cy="1180" r="8.5" stroke="#505156" stroke-width="1.3" fill="none" />
<line x1="1257" y1="1173" x2="1257" y2="1187" stroke="#777" stroke-width="1" />
<line x1="1262" y1="1173" x2="1262" y2="1187" stroke="#777" stroke-width="1" />
<rect x="1268.3" y="1163.3" width="22.8" height="33" stroke="#505156" stroke-width="1.3" fill="none" />
<path d="M1231.3,1266.7 L1231.3,1233.3 L1283.5,1233.3 L1283.5,1236 L1287.3,1238 L1287.3,1262 L1283.5,1264 L1283.5,1266.7" stroke="#505156" stroke-width="1.3" fill="none" />
<circle cx="1234.5" cy="1249.5" r="1.8" stroke="#444" stroke-width="1" fill="none" />
<path d="M1266.5,1245 Q1261,1249.5 1266.5,1254 M1268,1245 L1271,1245 M1268,1254 L1271,1254" stroke="#222" stroke-width="1.6" fill="none" />
<circle cx="1259.3" cy="1243.5" r="1.4" fill="#333"/>
<circle cx="1259.3" cy="1255" r="1.4" fill="#333"/>
<path d="M1075.6,1296 L1130.5,1296" stroke="#777" stroke-width="1.1" fill="none" />
<path d="M1130.5,1302 L1153.3,1296 L1294,1296 L1299.3,1302" stroke="#777" stroke-width="1.1" fill="none" />
<rect x="1241.3" y="1293.3" width="27.4" height="8.7" stroke="#505156" stroke-width="1.1" fill="none" />
<line x1="1250" y1="1293.3" x2="1250" y2="1302" stroke="#505156" stroke-width="1" />
<line x1="1260" y1="1293.3" x2="1260" y2="1302" stroke="#505156" stroke-width="1" />
</svg></body></html>
